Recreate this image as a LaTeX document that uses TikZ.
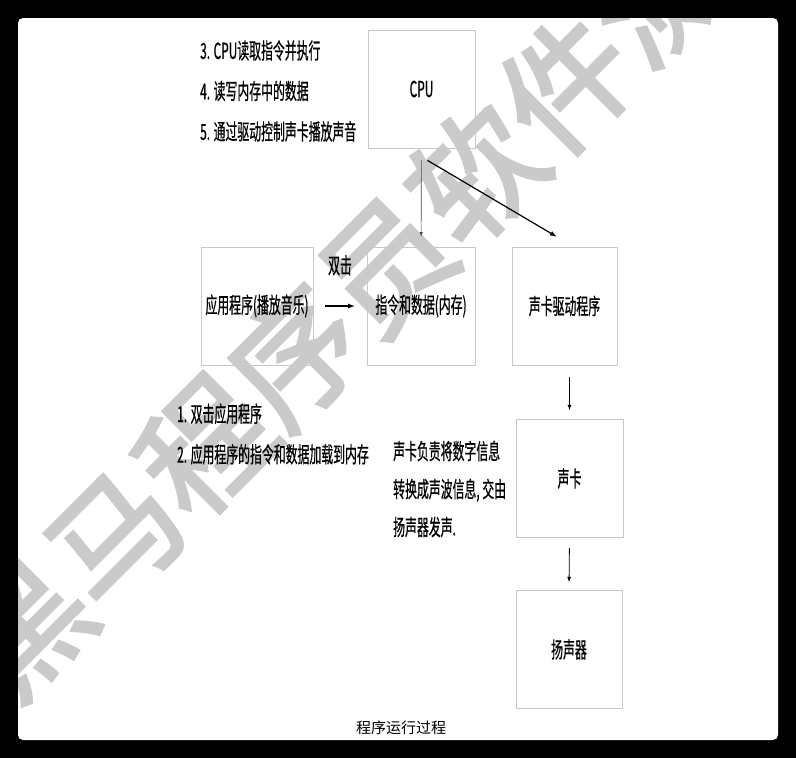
\documentclass[tikz,border=0pt]{standalone}
\usepackage{fontspec}
\usepackage{xcolor}
\newfontfamily\cjk[FakeStretch=0.54, FakeBold=0.6]{Noto Sans CJK SC}
\newfontfamily\cjkwide{Noto Sans CJK SC}
\newfontfamily\markfont[FakeBold=2.5]{Noto Sans CJK SC}
\definecolor{boxGray}{RGB}{200, 200, 200}
\definecolor{markGray}{RGB}{202, 202, 202}

\begin{document}
\begin{tikzpicture}[x=1pt, y=-1pt,
		box/.style={draw=boxGray, line width=0.8pt, minimum width=107pt, minimum height=118pt, inner sep=0pt, font=\cjk\fontsize{22}{24}\selectfont},
		note/.style={anchor=west, align=left, inner sep=0pt, font=\cjk\fontsize{22}{40.5}\selectfont},
		arr/.style={->, >=latex, draw=black, line width=0.8pt}]
			% frame and watermark
			\fill[black] (0,0) rectangle (796,758);
			\fill[white, rounded corners=5pt] (18,18) rectangle (778,740);
			\begin{scope}
				\clip[rounded corners=5pt] (18,18) rectangle (778,740);
				\draw (340,310) node[markGray, rotate=45, inner sep=0pt, font=\markfont\fontsize{128}{130}\selectfont] (mark) {黑马程序员软件测};
			\end{scope}

			\draw (421.5,89) node[box] (cpu) {CPU};
			\draw (257,306) node[box, minimum width=112pt] (app) {应用程序(播放音乐)};
			\draw (421,306) node[box, minimum width=108pt] (mem) {指令和数据(内存)};
			\draw (564.5,306) node[box, minimum width=105pt] (drv) {声卡驱动程序};
			\draw (569.5,478.5) node[box] (card) {声卡};
			\draw (569,649.5) node[box, minimum width=106pt] (spk) {扬声器};

			\draw (200,91) node[note] (cpusteps) {3. CPU读取指令并执行\\4. 读写内存中的数据\\5. 通过驱动控制声卡播放声音};
			\draw (177,434) node[note] (appsteps) {1. 双击应用程序\\2. 应用程序的指令和数据加载到内存};
			\draw (393,489) node[note, font=\cjk\fontsize{22}{38}\selectfont] (cardnote) {声卡负责将数字信息\\转换成声波信息, 交由\\扬声器发声.};
			\draw (401,728) node[font=\cjkwide\fontsize{15}{18}\selectfont] (caption) {程序运行过程};

			% connectors
			\draw[arr, line width=1.2pt, shorten <=12pt, shorten >=12pt] (app) -- node[above=30pt, inner sep=0pt, font=\cjk\fontsize{22}{24}\selectfont] (dblclick) {双击} (mem);
			\draw[arr, draw=black!70, line width=0.6pt, shorten <=12pt, shorten >=10pt] (cpu) -- (mem);
			\draw[arr, line width=1.2pt] ([xshift=6pt, yshift=-12pt]cpu.south) -- ([xshift=-8pt, yshift=10pt]drv.north);
			\draw[arr, shorten <=12pt, shorten >=9pt] (card.north |- drv.south) -- (card.north);
			\draw[arr, shorten <=10pt, shorten >=8pt] (card.south) -- (spk.north);
		\end{tikzpicture}
\end{document}
